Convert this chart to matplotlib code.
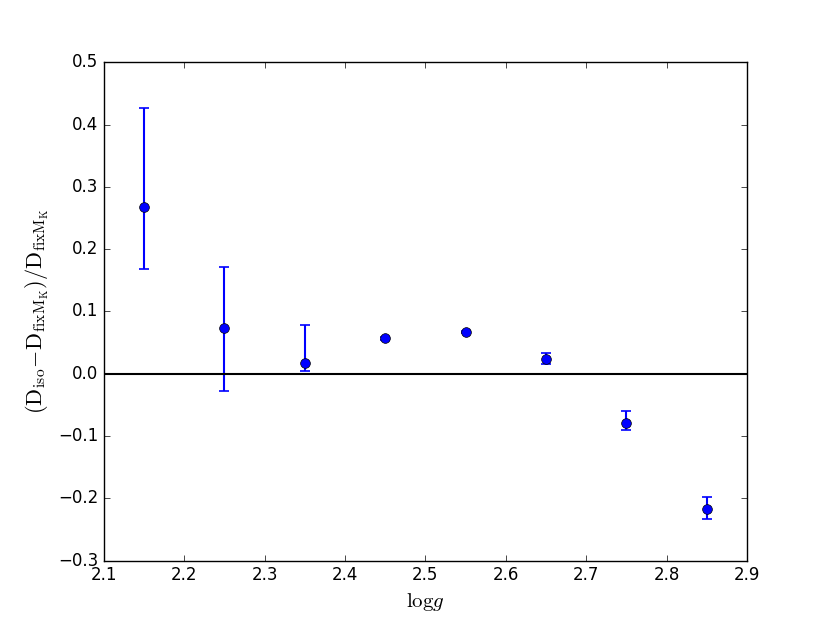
import matplotlib
matplotlib.use('Agg')
import matplotlib.pyplot as plt
import numpy as np

plt.style.use('classic')
plt.rcParams['mathtext.fontset'] = 'cm'

# data
logg = [2.15, 2.25, 2.35, 2.45, 2.55, 2.65, 2.75, 2.85]
frac = [0.268, 0.074, 0.017, 0.057, 0.067, 0.024, -0.079, -0.217]
err_low = [0.099, 0.101, 0.012, 0.002, 0.002, 0.009, 0.012, 0.016]
err_high = [0.159, 0.098, 0.061, 0.002, 0.002, 0.009, 0.019, 0.020]

fig = plt.figure(figsize=(8.3, 6.23), dpi=100)
ax = fig.add_subplot(111)

ax.errorbar(logg, frac, yerr=[err_low, err_high], fmt='o', color='b',
            ecolor='b', markersize=7, capsize=3.3, elinewidth=1.5, capthick=1.2)
ax.axhline(0.0, color='k', linewidth=1.5)

ax.set_xlim(2.1, 2.9)
ax.set_ylim(-0.3, 0.5)
ax.set_xlabel(r'$\mathrm{log}g$', fontsize=15)
ax.set_ylabel(r'$(\mathrm{D_{iso}}\!-\!\mathrm{D_{fixM_K}})/\mathrm{D_{fixM_K}}$', fontsize=16)

fig.savefig('out.png', dpi=100)
